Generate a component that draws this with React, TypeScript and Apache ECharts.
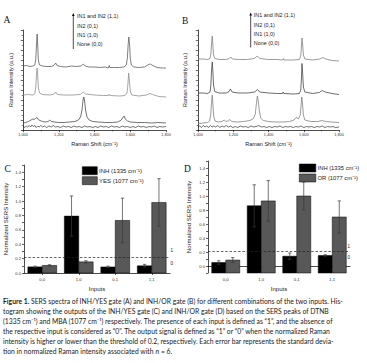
import React, { useEffect, useRef } from 'react';
import * as echarts from 'echarts';

// ---------- Data ----------
const inputs = ['0,0', '1,0', '0,1', '1,1'];

const cInh = [0.085, 0.79, 0.085, 0.1];
const cInhErr = [0.01, 0.28, 0.01, 0.02];
const cYes = [0.105, 0.155, 0.73, 0.98];
const cYesErr = [0.01, 0.015, 0.31, 0.33];

const dInh = [0.05, 0.86, 0.14, 0.15];
const dInhErr = [0.025, 0.3, 0.045, 0.01];
const dOr = [0.085, 0.93, 1.0, 0.7];
const dOrErr = [0.035, 0.29, 0.2, 0.23];

const thresholds = [0.22, 0.21];

// Spectra A (INH/YES) — offset intensities (a.u.)
const specA11: number[][] = [
  [1000, 64], [1020, 64.5], [1040, 63.5], [1055, 64], [1066, 65], [1071, 70], [1075, 83], [1079, 96], [1082, 86], [1086, 70], [1092, 65],
  [1110, 64], [1130, 63.5], [1160, 63.5], [1175, 65], [1183, 67], [1190, 64.5], [1210, 63.5], [1240, 63], [1270, 64], [1300, 63.5],
  [1325, 64], [1337, 66], [1348, 64], [1370, 63], [1400, 63], [1430, 62.5], [1460, 63], [1478, 62], [1482, 64.5], [1486, 62.5],
  [1510, 62.5], [1540, 62.5], [1565, 63], [1578, 65], [1584, 72], [1588, 85], [1592, 93], [1596, 86], [1600, 72], [1606, 65],
  [1620, 63], [1650, 62.5], [1680, 63], [1698, 65], [1712, 66], [1726, 64.5], [1750, 62.5], [1780, 62], [1800, 62],
];
const specA01: number[][] = [
  [1000, 35], [1030, 35.5], [1055, 35], [1066, 36.5], [1071, 42], [1075, 54], [1079, 62], [1082, 55], [1086, 42], [1093, 37],
  [1110, 35.5], [1150, 35], [1175, 36], [1183, 38], [1192, 35.5], [1230, 35], [1280, 35], [1320, 35.5], [1337, 38], [1350, 36],
  [1400, 35], [1450, 34.5], [1479, 34.5], [1483, 36], [1487, 34.5], [1540, 34], [1570, 34.5], [1582, 37], [1587, 46], [1591, 57],
  [1595, 50], [1600, 39], [1608, 35], [1650, 34], [1690, 35], [1710, 36.5], [1725, 35.5], [1760, 33.5], [1800, 33],
];
const specA10: number[][] = [
  [1000, 7], [1015, 7.5], [1030, 8.5], [1045, 10], [1055, 11], [1062, 10.5], [1070, 11.5], [1078, 12.5], [1085, 10.5], [1095, 9.5],
  [1110, 8.5], [1125, 8], [1140, 8.5], [1150, 10], [1158, 8.5], [1175, 8], [1200, 7.5], [1230, 7.5], [1260, 8], [1290, 8.5],
  [1310, 10], [1322, 13], [1330, 20], [1336, 30], [1340, 33], [1344, 30], [1350, 20], [1358, 13], [1370, 10], [1390, 8.5],
  [1420, 8], [1460, 7.5], [1500, 7.5], [1530, 8], [1550, 10], [1560, 13], [1566, 14], [1572, 11], [1585, 9], [1600, 8],
  [1640, 7.5], [1680, 7.5], [1720, 7], [1760, 7.5], [1800, 7],
];
const specA00: number[][] = [
  [1000, 3.5], [1010, 2.5], [1018, 4], [1025, 3], [1035, 4.5], [1042, 3], [1050, 5], [1058, 3.5], [1066, 4.5], [1074, 2.5],
  [1082, 4], [1090, 3], [1100, 4.5], [1110, 3], [1120, 4], [1132, 2.5], [1145, 4], [1158, 3], [1170, 4.5], [1182, 3],
  [1195, 3.5], [1210, 2.5], [1225, 4], [1240, 3], [1255, 3.5], [1270, 2.5], [1285, 4], [1300, 3], [1315, 3.5], [1330, 2.5],
  [1345, 4], [1360, 3], [1375, 3.5], [1390, 2.5], [1405, 3.5], [1420, 2.5], [1435, 4], [1450, 3], [1465, 3.5], [1480, 2.5],
  [1495, 4], [1510, 3], [1525, 3.5], [1540, 2.5], [1555, 4], [1570, 3], [1585, 3.5], [1600, 2.5], [1615, 3.5], [1630, 2.5],
  [1645, 4], [1660, 3], [1675, 3.5], [1690, 2.5], [1705, 3.5], [1720, 3], [1735, 4], [1750, 2.5], [1765, 3.5], [1780, 3], [1800, 3.5],
];

// Spectra B (INH/OR)
const specB11: number[][] = [
  [1000, 71], [1030, 71], [1055, 70.5], [1068, 71.5], [1073, 76], [1077, 87], [1081, 94], [1084, 86], [1088, 75], [1095, 71.5],
  [1120, 70.5], [1160, 70.5], [1178, 71.5], [1186, 73], [1195, 71], [1230, 70.5], [1280, 70.5], [1320, 71.5], [1336, 74],
  [1350, 71.5], [1400, 70.5], [1450, 70.5], [1480, 70], [1484, 71.5], [1488, 70], [1540, 70], [1575, 70.5], [1583, 74],
  [1587, 84], [1590, 92], [1594, 85], [1598, 75], [1606, 71], [1650, 70], [1690, 71], [1708, 72.5], [1725, 71], [1760, 69.5], [1800, 69],
];
const specB01: number[][] = [
  [1000, 37], [1030, 37], [1055, 36.5], [1068, 38], [1073, 45], [1077, 60], [1081, 68], [1084, 60], [1088, 45], [1095, 38.5],
  [1120, 37], [1160, 37], [1176, 38.5], [1184, 41], [1193, 38], [1230, 37], [1280, 37], [1322, 38], [1337, 40.5], [1350, 38],
  [1400, 37], [1450, 36.5], [1479, 36.5], [1483, 38], [1487, 36.5], [1540, 36], [1575, 36.5], [1583, 40], [1587, 52],
  [1590, 66.5], [1594, 56], [1598, 43], [1606, 38], [1650, 36.5], [1688, 37.5], [1705, 39.5], [1722, 38], [1760, 36.5], [1800, 35.5],
];
const specB10: number[][] = [
  [1000, 6.5], [1030, 7], [1055, 7.5], [1066, 9], [1072, 15], [1077, 28], [1081, 35], [1084, 27], [1089, 14], [1096, 9],
  [1115, 8], [1135, 8.5], [1150, 10], [1158, 8.5], [1172, 9], [1181, 10.5], [1190, 8.5], [1220, 8], [1260, 8.5], [1295, 9.5],
  [1315, 11.5], [1325, 16], [1331, 26], [1337, 34], [1342, 29], [1348, 19], [1356, 12], [1370, 9.5], [1400, 8.5], [1440, 8],
  [1480, 8], [1520, 8.5], [1545, 10], [1556, 12.5], [1562, 12], [1570, 11], [1580, 15], [1585, 25], [1589, 33], [1593, 26],
  [1598, 15], [1606, 10], [1640, 8.5], [1680, 8.5], [1705, 9.5], [1725, 8.5], [1760, 8], [1800, 7.5],
];
const specB00: number[][] = [
  [1000, 3], [1010, 4], [1020, 2.5], [1030, 4.5], [1040, 3], [1050, 4], [1060, 2.5], [1070, 4.5], [1080, 3], [1090, 4],
  [1100, 3], [1112, 4.5], [1124, 2.5], [1136, 4], [1148, 3], [1160, 4.5], [1172, 3], [1185, 4], [1198, 2.5], [1212, 3.5],
  [1226, 2.5], [1240, 4], [1255, 3], [1270, 3.5], [1285, 2.5], [1300, 4], [1315, 3], [1330, 3.5], [1345, 4.5], [1360, 3],
  [1375, 3.5], [1390, 2.5], [1405, 3.5], [1420, 2.5], [1435, 3.5], [1450, 3], [1465, 4], [1480, 2.5], [1495, 3.5], [1510, 3],
  [1525, 3.5], [1540, 2.5], [1555, 3.5], [1570, 3], [1585, 4], [1600, 2.5], [1615, 3.5], [1630, 3], [1645, 3.5], [1660, 2.5],
  [1675, 3.5], [1690, 3], [1705, 4], [1720, 2.5], [1735, 3.5], [1750, 3], [1765, 3.5], [1780, 2.5], [1800, 3],
];

const stateLabels = ['IN1 and IN2 (1,1)', 'IN2 (0,1)', 'IN1 (1,0)', 'None (0,0)'];
const legendC = ['INH (1335 cm\u207B\u00B9)', 'YES (1077 cm\u207B\u00B9)'];
const legendD = ['INH (1335 cm\u207B\u00B9)', 'OR (1077 cm\u207B\u00B9)'];

const captionLines = [
  '{b|Figure 1.} SERS spectra of INH/YES gate (A) and INH/OR gate (B) for different combinations of the two inputs. His-',
  'togram showing the outputs of the INH/YES gate (C) and INH/OR gate (D) based on the SERS peaks of DTNB',
  '(1335 cm\u207B\u00B9) and MBA (1077 cm\u207B\u00B9) respectively. The presence of each input is defined as \u201C1\u201D, and the absence of',
  'the respective input is considered as \u201C0\u201D. The output signal is defined as \u201C1\u201D or \u201C0\u201D when the normalized Raman',
  'intensity is higher or lower than the threshold of 0.2, respectively. Each error bar represents the standard devia-',
  'tion in normalized Raman intensity associated with {i|n} = 6.',
];

// ---------- Styles ----------
const SANS = '"Liberation Sans", Arial, sans-serif';
const SERIF = '"Liberation Serif", "DejaVu Serif", serif';
const CAP = 'Lato, "Open Sans", sans-serif';
const BLACK = '#000000';
const GRAY_BAR = '#585858';

function barRenderer(side: number, yMin: number, color: string) {
  return (params: any, api: any) => {
    const ci = api.value(0);
    const v = api.value(1);
    const e = api.value(2);
    const band = api.size([1, 0])[0];
    const bw = band * 0.395;
    const top = api.coord([ci, v]);
    const base = api.coord([ci, yMin])[1];
    const x0 = side < 0 ? top[0] - bw : top[0];
    const cx = x0 + bw / 2;
    const eTop = api.coord([ci, v + e])[1];
    const eBot = api.coord([ci, v - e])[1];
    const cap = 1.7;
    const es = { stroke: '#3a3a3a', lineWidth: 0.7 };
    return {
      type: 'group',
      children: [
        { type: 'rect', shape: { x: x0, y: top[1], width: bw, height: base - top[1] }, style: { fill: color, stroke: '#000', lineWidth: 0.5 } },
        { type: 'line', shape: { x1: cx, y1: eTop, x2: cx, y2: eBot }, style: es },
        { type: 'line', shape: { x1: cx - cap, y1: eTop, x2: cx + cap, y2: eTop }, style: es },
        { type: 'line', shape: { x1: cx - cap, y1: eBot, x2: cx + cap, y2: eBot }, style: es },
      ],
    };
  };
}

const axisLineStyle = { color: '#000', width: 0.7 };

function spectraX(gi: number) {
  return {
    type: 'value', gridIndex: gi, min: 1000, max: 1800, interval: 200,
    axisLine: { show: true, lineStyle: axisLineStyle },
    axisTick: { show: true, length: 2.2, lineStyle: { color: '#000', width: 0.6 } },
    minorTick: { show: true, splitNumber: 2, length: 1.3, lineStyle: { color: '#000', width: 0.5 } },
    axisLabel: { fontSize: 3.8, margin: 2.5, color: '#333', fontFamily: SANS },
    splitLine: { show: false },
    name: 'Raman Shift (cm\u207B\u00B9)', nameLocation: 'middle', nameGap: 10.5,
    nameTextStyle: { fontSize: 5.5, fontFamily: SANS, color: '#222' },
  };
}
function spectraY(gi: number, gap: number) {
  return {
    type: 'value', gridIndex: gi, min: 0, max: 100, interval: 10,
    axisLine: { show: true, lineStyle: axisLineStyle },
    axisTick: { show: true, length: 2.2, lineStyle: { color: '#000', width: 0.6 } },
    minorTick: { show: true, splitNumber: 2, length: 1.3, lineStyle: { color: '#000', width: 0.5 } },
    axisLabel: { show: false },
    splitLine: { show: false },
    name: 'Raman Intensity (a.u.)', nameLocation: 'middle', nameGap: gap,
    nameTextStyle: { fontSize: 5.5, fontFamily: SANS, color: '#222' },
  };
}
function barX(gi: number) {
  return {
    type: 'category', gridIndex: gi, data: inputs,
    axisLine: { show: true, lineStyle: axisLineStyle },
    axisTick: { show: true, alignWithLabel: true, length: 2, lineStyle: { color: '#000', width: 0.6 } },
    axisLabel: { fontSize: 4.2, margin: 4, color: '#333', fontFamily: SANS },
    splitLine: { show: false },
    name: 'Inputs', nameLocation: 'middle', nameGap: 12.5,
    nameTextStyle: { fontSize: 6, fontFamily: SANS, color: '#222' },
  };
}
function barY(gi: number, min: number, gap: number) {
  return {
    type: 'value', gridIndex: gi, min, max: 1.5, interval: 0.1,
    axisLine: { show: true, lineStyle: axisLineStyle },
    axisTick: { show: true, length: 2, lineStyle: { color: '#000', width: 0.6 } },
    axisLabel: {
      fontSize: 4.2, margin: 3, color: '#333', fontFamily: SANS,
      formatter: (v: number) => {
        const k = Math.round(v * 10);
        return k >= 0 && k % 2 === 0 && k <= 14 ? (k / 10).toFixed(1) : '';
      },
    },
    splitLine: { show: false },
    name: 'Normalized SERS Intensity', nameLocation: 'middle', nameGap: gap,
    nameTextStyle: { fontSize: 6, fontFamily: SANS, color: '#222' },
  };
}

function lineSeries(data: number[][], gi: number, color: string, width = 0.75) {
  return {
    type: 'line', xAxisIndex: gi, yAxisIndex: gi, data, showSymbol: false, symbol: 'none',
    lineStyle: { color, width }, silent: true, z: 3,
  };
}

function barSeries(name: string, vals: number[], errs: number[], gi: number, side: number, yMin: number, color: string) {
  return {
    type: 'custom', name, xAxisIndex: gi, yAxisIndex: gi, clip: false,
    renderItem: barRenderer(side, yMin, color),
    itemStyle: { color },
    encode: { x: 0, y: 1 },
    data: vals.map((v, i) => [i, v, errs[i]]),
    z: 3,
  };
}

function thresholdSeries(gi: number, value: number) {
  return {
    type: 'line', xAxisIndex: gi, yAxisIndex: gi, data: [], silent: true, z: 5,
    markLine: {
      symbol: 'none', silent: true, animation: false, label: { show: false },
      lineStyle: { color: '#222', width: 0.7, type: [2.5, 1.8] },
      data: [{ yAxis: value }],
    },
  };
}

function txt(x: number, y: number, text: string, fontSize: number, extra: any = {}) {
  return {
    type: 'text', x, y, silent: true,
    style: { text, fontSize, fontFamily: SANS, fill: '#222', verticalAlign: 'middle', align: 'left', ...extra },
  };
}

function annotation(ax: number, tx: number, ys: number[], yTop: number, yBot: number) {
  const els: any[] = [
    { type: 'line', shape: { x1: ax, y1: yBot, x2: ax, y2: yTop + 2 }, style: { stroke: '#000', lineWidth: 0.7 }, silent: true },
    { type: 'polygon', shape: { points: [[ax - 1.3, yTop + 3], [ax, yTop], [ax + 1.3, yTop + 3]] }, style: { fill: '#000' }, silent: true },
  ];
  stateLabels.forEach((s, i) => els.push(txt(tx, ys[i], s, 5.4)));
  return els;
}

function legend(x: number, y0: number, dy: number, w: number, h: number, names: string[], fs: number) {
  const els: any[] = [];
  const colors = [BLACK, GRAY_BAR];
  names.forEach((n, i) => {
    els.push({ type: 'rect', shape: { x, y: y0 + i * dy, width: w, height: h }, style: { fill: colors[i], stroke: '#000', lineWidth: 0.5 }, silent: true });
    els.push(txt(x + w + 1.8, y0 + i * dy + h / 2, n, fs));
  });
  return els;
}

export default function App() {
  const ref = useRef<HTMLDivElement>(null);
  useEffect(() => {
    if (!ref.current) return;
    const chart = echarts.init(ref.current, null, { renderer: 'svg' });
    const grids = [
      { left: 23, top: 30, width: 143, height: 100 },
      { left: 198, top: 30, width: 141, height: 100 },
      { left: 24, top: 165, width: 146, height: 108 },
      { left: 208, top: 161, width: 142, height: 112 },
    ].map((g) => ({ ...g, outerBoundsMode: 'none', containLabel: false, show: false }));

    const FS = 6.8;
    const captionEls = captionLines.map((line, i) => ({
      type: 'text', x: 3, y: 301 + i * 10, silent: true,
      style: {
        text: line, fontSize: FS, fontFamily: CAP, fill: '#1a1a1a', verticalAlign: 'middle', align: 'left',
        rich: {
          b: { fontSize: FS, fontFamily: CAP, fontWeight: 'bold', fill: '#1a1a1a' },
          i: { fontSize: FS, fontFamily: CAP, fontStyle: 'italic', fill: '#1a1a1a' },
        },
      },
    }));

    const option: any = {
      animation: false,
      backgroundColor: '#ffffff',
      grid: grids,
      xAxis: [spectraX(0), spectraX(1), barX(2), barX(3)],
      yAxis: [spectraY(0, 9.5), spectraY(1, 10.5), barY(2, 0, 15.5), barY(3, -0.1, 16.5)],
      series: [
        lineSeries(specA00, 0, '#111', 0.6),
        lineSeries(specA10, 0, '#444'),
        lineSeries(specA01, 0, '#8a8a8a'),
        lineSeries(specA11, 0, '#555'),
        lineSeries(specB00, 1, '#111', 0.6),
        lineSeries(specB10, 1, '#7a7a7a'),
        lineSeries(specB01, 1, '#3c3c3c'),
        lineSeries(specB11, 1, '#7a7a7a'),
        barSeries(legendC[0], cInh, cInhErr, 2, -1, 0, BLACK),
        barSeries(legendC[1], cYes, cYesErr, 2, 1, 0, GRAY_BAR),
        thresholdSeries(2, thresholds[0]),
        barSeries(legendD[0] + ' ', dInh, dInhErr, 3, -1, -0.1, BLACK),
        barSeries(legendD[1], dOr, dOrErr, 3, 1, -0.1, GRAY_BAR),
        thresholdSeries(3, thresholds[1]),
      ],
      graphic: [
        txt(3.5, 20, 'A', 9.5, { fontFamily: SERIF, fill: '#111' }),
        txt(182, 20.5, 'B', 9.5, { fontFamily: SERIF, fill: '#111' }),
        txt(4.5, 169, 'C', 9.5, { fontFamily: SERIF, fill: '#111' }),
        txt(184, 169, 'D', 9.5, { fontFamily: SERIF, fill: '#111' }),
        ...annotation(73.3, 77, [16, 25.6, 35, 44.2], 13, 49),
        ...annotation(250.7, 253.8, [15.3, 24.7, 34, 43], 12.5, 47.5),
        ...legend(82.3, 166.7, 10, 15, 8, legendC, 6),
        ...legend(299.3, 164, 10, 16.5, 8, legendD, 5.8),
        txt(170.5, 250, '1', 4.5),
        txt(170.5, 263, '0', 4.5),
        txt(347.5, 246, '1', 4.5),
        txt(347.5, 257.5, '0', 4.5),
        ...captionEls,
      ],
    };
    chart.setOption(option);
    return () => chart.dispose();
  }, []);
  return (
    <div
      ref={ref}
      style={{ position: 'absolute', left: 0, top: 0, width: 367, height: 363, background: '#fff' }}
    />
  );
}
